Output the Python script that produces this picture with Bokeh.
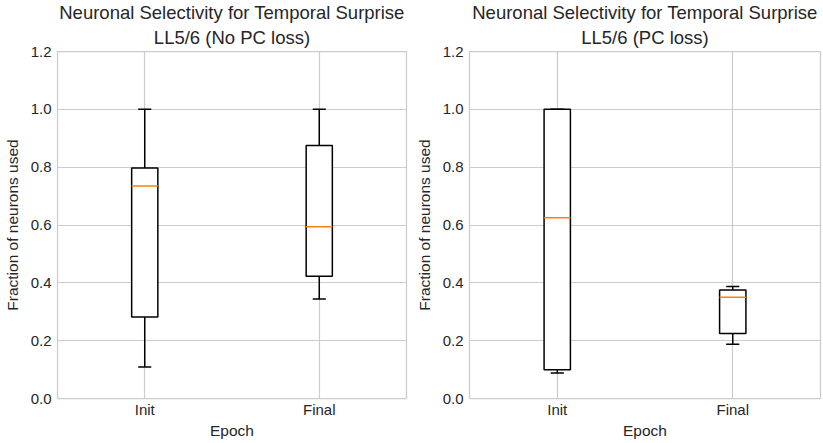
from bokeh.plotting import figure
from bokeh.layouts import row
from bokeh.models import Title, FixedTicker, PrintfTickFormatter, Range1d
from bokeh.embed import file_html
from bokeh.resources import INLINE

# Box-plot summaries per training epoch (lower whisker, Q1, median, Q3, upper whisker)
epochs = ["Init", "Final"]

no_pc_low = [0.109, 0.344]
no_pc_q1 = [0.282, 0.423]
no_pc_med = [0.735, 0.594]
no_pc_q3 = [0.797, 0.875]
no_pc_high = [1.0, 1.0]

pc_low = [0.088, 0.188]
pc_q1 = [0.099, 0.225]
pc_med = [0.625, 0.350]
pc_q3 = [1.0, 0.375]
pc_high = [1.0, 0.387]

y_ticks = [0.0, 0.2, 0.4, 0.6, 0.8, 1.0, 1.2]

FONT = "Liberation Sans"
TEXT = "#262626"
GRID = "#cccccc"
BOX_W = 0.15
CAP_W = 0.075


def box_panel(subtitle, low, q1, med, q3, high, width, left, right):
    p = figure(width=width, height=443, output_backend="svg", toolbar_location=None,
               x_range=Range1d(0.5, 2.5), y_range=Range1d(0.0, 1.2), title=None,
               min_border_left=left, min_border_right=right,
               min_border_top=51, min_border_bottom=45)
    p.background_fill_color = "white"
    p.border_fill_color = "white"
    p.outline_line_color = GRID
    p.outline_line_width = 1.25

    # two-line heading: second line added first so it sits next to the frame
    p.add_layout(Title(text=subtitle, align="center", text_font=FONT,
                       text_font_size="18.5px", text_font_style="normal",
                       text_color=TEXT, standoff=8), "above")
    p.add_layout(Title(text="Neuronal Selectivity for Temporal Surprise", align="center",
                       text_font=FONT, text_font_size="18.5px", text_font_style="normal",
                       text_color=TEXT, standoff=-5), "above")

    pos = [i + 1 for i in range(len(epochs))]

    # whiskers
    p.segment(x0=pos, x1=pos, y0=q3, y1=high, line_color="black", line_width=1.5)
    p.segment(x0=pos, x1=pos, y0=q1, y1=low, line_color="black", line_width=1.5)
    # boxes
    p.vbar(x=pos, width=BOX_W, bottom=q1, top=q3, fill_color="white",
           line_color="black", line_width=1.5)
    # medians
    p.segment(x0=[x - BOX_W / 2 for x in pos], x1=[x + BOX_W / 2 for x in pos],
              y0=med, y1=med, line_color="#ff7f0e", line_width=1.5)
    # caps
    for vals in (low, high):
        p.segment(x0=[x - CAP_W / 2 for x in pos], x1=[x + CAP_W / 2 for x in pos],
                  y0=vals, y1=vals, line_color="black", line_width=1.5)

    p.xaxis.ticker = FixedTicker(ticks=pos)
    p.xaxis.major_label_overrides = {x: e for x, e in zip(pos, epochs)}
    p.yaxis.ticker = FixedTicker(ticks=y_ticks)
    p.yaxis.formatter = PrintfTickFormatter(format="%.1f")
    p.xaxis.axis_label = "Epoch"
    p.yaxis.axis_label = "Fraction of neurons used"

    for ax in (p.xaxis[0], p.yaxis[0]):
        ax.axis_line_color = None
        ax.major_tick_line_color = None
        ax.minor_tick_line_color = None
        ax.major_tick_out = 0
        ax.major_tick_in = 0
        ax.minor_tick_out = 0
        ax.minor_tick_in = 0
        ax.major_label_text_font = FONT
        ax.major_label_text_font_size = "15px"
        ax.major_label_text_color = TEXT
        ax.axis_label_text_font = FONT
        ax.axis_label_text_font_size = "15.5px"
        ax.axis_label_text_font_style = "normal"
        ax.axis_label_text_color = TEXT
    p.xaxis.major_label_standoff = 2
    p.yaxis.major_label_standoff = 6
    p.xaxis.axis_label_standoff = 1
    p.yaxis.axis_label_standoff = 7

    p.xgrid.grid_line_color = GRID
    p.ygrid.grid_line_color = GRID
    p.xgrid.grid_line_width = 1.2
    p.ygrid.grid_line_width = 1.2
    return p


left = box_panel("LL5/6 (No PC loss)", no_pc_low, no_pc_q1, no_pc_med, no_pc_q3, no_pc_high,
                 411, 55, 5)
right = box_panel("LL5/6 (PC loss)", pc_low, pc_q1, pc_med, pc_q3, pc_high,
                  412, 58, 3)

layout = row(left, right)
open("out.html", "w").write(file_html(layout, INLINE))
